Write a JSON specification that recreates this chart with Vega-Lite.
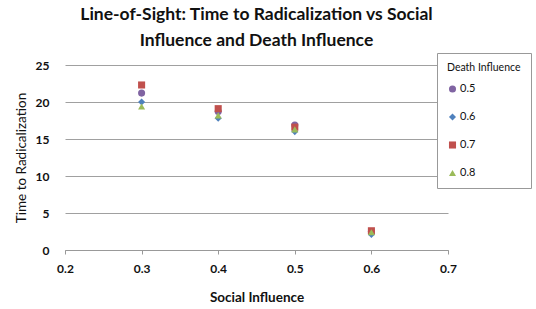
{
  "$schema": "https://vega.github.io/schema/vega-lite/v6.json",
  "autosize": {"type": "none"},
  "padding": {"left": 65, "top": 65, "right": 88, "bottom": 59},
  "width": 383,
  "height": 185,
  "background": "white",
  "title": {
    "text": ["Line-of-Sight: Time to Radicalization vs Social", "Influence and Death Influence"],
    "font": "Lato",
    "fontSize": 17.5,
    "fontWeight": "bold",
    "color": "#111111",
    "lineHeight": 26,
    "anchor": "middle",
    "frame": "group",
    "offset": 3
  },
  "data": {
    "values": [
      {"social": 0.3, "death": "0.5", "time": 21.2},
      {"social": 0.3, "death": "0.6", "time": 20.0},
      {"social": 0.3, "death": "0.7", "time": 22.3},
      {"social": 0.3, "death": "0.8", "time": 19.4},
      {"social": 0.4, "death": "0.5", "time": 18.7},
      {"social": 0.4, "death": "0.6", "time": 17.8},
      {"social": 0.4, "death": "0.7", "time": 19.1},
      {"social": 0.4, "death": "0.8", "time": 18.2},
      {"social": 0.5, "death": "0.5", "time": 16.9},
      {"social": 0.5, "death": "0.6", "time": 16.0},
      {"social": 0.5, "death": "0.7", "time": 16.6},
      {"social": 0.5, "death": "0.8", "time": 16.3},
      {"social": 0.6, "death": "0.5", "time": 2.5},
      {"social": 0.6, "death": "0.6", "time": 2.1},
      {"social": 0.6, "death": "0.7", "time": 2.6},
      {"social": 0.6, "death": "0.8", "time": 2.4}
    ]
  },
  "mark": {"type": "point", "filled": true, "size": 50, "opacity": 1},
  "encoding": {
    "x": {
      "field": "social",
      "type": "quantitative",
      "title": "Social Influence",
      "scale": {"domain": [0.2, 0.7], "nice": false, "zero": false},
      "axis": {
        "values": [0.2, 0.3, 0.4, 0.5, 0.6, 0.7],
        "format": ".1f",
        "grid": false,
        "labelFlush": false,
        "domainColor": "#999999",
        "tickColor": "#999999",
        "tickSize": 4,
        "labelFont": "Lato",
        "labelFontSize": 12,
        "labelFontWeight": "bold",
        "labelColor": "#111111",
        "labelPadding": 9,
        "titleFont": "Lato",
        "titleFontSize": 13.5,
        "titleFontWeight": "bold",
        "titleColor": "#111111",
        "titlePadding": 16
      }
    },
    "y": {
      "field": "time",
      "type": "quantitative",
      "title": "Time to Radicalization",
      "scale": {"domain": [0, 25], "nice": false},
      "axis": {
        "values": [0, 5, 10, 15, 20, 25],
        "grid": true,
        "gridColor": "#a0a0a0",
        "domain": false,
        "ticks": false,
        "labelFont": "Lato",
        "labelFontSize": 12,
        "labelFontWeight": "bold",
        "labelColor": "#111111",
        "labelPadding": 16,
        "titleFont": "Lato",
        "titleFontSize": 13.5,
        "titleFontWeight": "normal",
        "titleColor": "#111111",
        "titlePadding": 7
      }
    },
    "color": {
      "field": "death",
      "type": "nominal",
      "title": "Death Influence",
      "scale": {"domain": ["0.5", "0.6", "0.7", "0.8"], "range": ["#8064A2", "#4F81BD", "#C0504D", "#9BBB59"]},
      "legend": {
        "orient": "none",
        "legendX": 372,
        "legendY": -12,
        "padding": 10,
        "strokeColor": "#999999",
        "fillColor": "white",
        "titleFont": "Lato",
        "titleFontSize": 10.5,
        "titleFontWeight": "normal",
        "titleColor": "#111111",
        "labelFont": "Lato",
        "labelFontSize": 11,
        "labelColor": "#111111",
        "symbolSize": 50,
        "rowPadding": 16,
        "titlePadding": 10,
        "labelOffset": 2
      }
    },
    "shape": {
      "field": "death",
      "type": "nominal",
      "scale": {"domain": ["0.5", "0.6", "0.7", "0.8"], "range": ["circle", "diamond", "square", "triangle-up"]}
    }
  },
  "config": {"view": {"stroke": null}}
}
